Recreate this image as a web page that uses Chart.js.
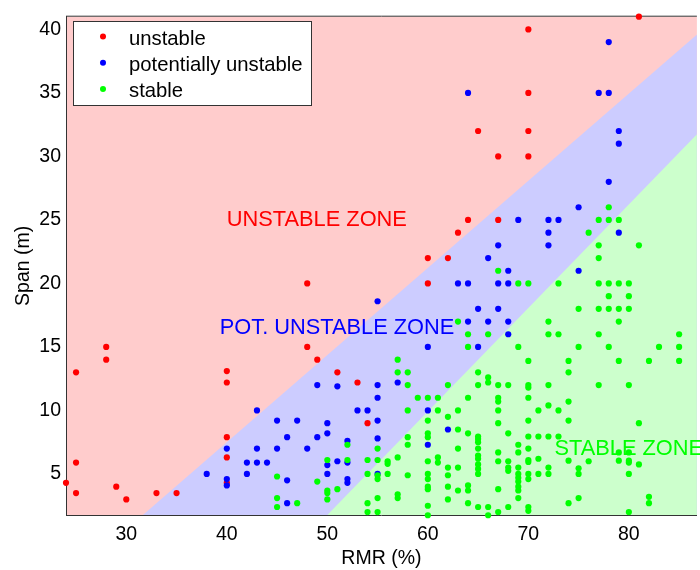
<!DOCTYPE html>
<html><head><meta charset="utf-8">
<script src="https://cdn.jsdelivr.net/npm/chart.js@4"></script>
<style>html,body{margin:0;padding:0;background:#fff;overflow:hidden}#wrap{width:700px;height:570px;position:relative}</style>
</head><body><div id="wrap"><canvas id="c" width="700" height="570"></canvas></div>
<script>
// ---------- data ----------
const xTicks = [30, 40, 50, 60, 70, 80];
const yTicks = [5, 10, 15, 20, 25, 30, 35, 40];
const seriesNames = ['unstable', 'potentially unstable', 'stable'];

const unstable = [
  [24,4.3],[25,13],[25,5.9],[25,3.5],[28,15],[28,14],[29,4],[30,3],[33,3.5],[35,3.5],
  [40,13.1],[40,12.2],[40,7.9],[40,6.3],[40,4.3],[48,20],[48,15],[49,14],[51,13],[53,12.2],
  [54,9],[60,22],[60,20],[62,22],[63,24],[64,25],[65,32],[67,30],[67,25],[70,40],
  [70,35],[70,32],[70,30],[81,41]
];
const potentiallyUnstable = [
  [38,5],[40,7],[40,4.6],[40,4.1],[42,5.9],[42,5],[43,10],[43,7],[43,5.9],[44,5.9],
  [45,9.2],[45,7],[46,7.9],[46,4.5],[46,2.7],[47,9.2],[48,7],[49,12],[49,7.9],[50,9],
  [50,8.2],[50,5.7],[50,5],[51,11.9],[51,6],[52,7.6],[52,5.9],[52,4.6],[52,4.3],[53,10],
  [54,10],[55,18.6],[55,12],[55,11],[55,9.2],[55,7.8],[55,5],[57,12.2],[60,15],[60,10],
  [60,7.3],[62,8.5],[63,20],[64,35],[64,20],[64,17],[65,18],[65,15],[66,22],[66,17],
  [67,23],[67,20],[67,18],[68,21],[68,20],[68,17],[68,16],[69,25],[72,25],[72,24],
  [72,23],[73,25],[75,26],[75,21],[77,35],[78,39],[78,35],[78,28],[79,32],[79,31],[79,24]
];
const stable = [
  [45,4.8],[45,3.1],[45,2.4],[47,2.7],[49,4.4],
  [50,6.1],[50,3.7],[50,3.5],[50,3.0],[51,3.8],
  [52,7.3],[52,6.1],
  [54,6.1],[54,5.0],[54,2.7],[54,2.0],
  [55,7.0],[55,6.1],[55,4.9],[55,4.6],[55,3.1],[55,2.0],
  [56,6.0],[56,5.8],[56,5.0],
  [57,14],[57,13],[57,6.3],[57,3.4],[57,3.1],
  [58,13],[58,12],[58,10],[58,7.9],[58,7.3],[58,4.9],
  [59,11],
  [60,11],[60,9.2],[60,8.2],[60,7.9],[60,6.0],[60,5.0],[60,4.6],[60,4.0],[60,3.8],[60,2.5],[60,1.75],
  [61,11],[61,10],[61,6.3],[61,5.9],
  [62,12],[62,9.5],[62,5.5],[62,4.9],[62,4.0],[62,3.0],
  [63,17],[63,10],[63,8.5],[63,7.0],[63,5.5],[63,3.7],
  [64,16],[64,15],[64,11],[64,8.2],[64,4.1],[64,3.7],[64,2.7],
  [65,13],[65,12],[65,7.95],[65,7.75],[65,7.5],[65,7.0],[65,6.45],[65,6.2],[65,5.75],[65,5.4],[65,5.0],[65,2.4],
  [66,16],[66,12.6],[66,12.2],[66,2.4],[66,1.75],
  [67,21],[67,12],[67,11],[67,10.7],[67,10],[67,9.0],[67,6.7],[67,6.0],[67,3.8],[67,2.0],
  [68,12],[68,8.2],[68,6.0],[68,5.5],[68,5.25],[68,2.4],
  [69,20],[69,15],[69,7.3],[69,6.7],[69,5.5],[69,5.0],[69,4.7],[69,4.4],[69,4.0],[69,3.7],[69,3.1],
  [70,20],[70,13.9],[70,12],[70,11.8],[70,11],[70,9.2],[70,7.95],[70,7.0],[70,6.1],[70,5.95],[70,5.0],[70,4.6],[70,2.4],[70,2.1],
  [71,10],[71,7.95],[71,6.2],[71,5.0],
  [72,17],[72,16],[72,12],[72,10.4],[72,7.95],[72,5.5],[72,5.0],
  [73,20],[73,16],[73,10],[73,7.95],
  [74,13.9],[74,13],[74,10.7],[74,9.2],[74,6.05],[74,2.7],
  [75,18],[75,15],[75,5.45],[75,5.0],[75,3.1],
  [76,24],[76,6.0],
  [77,25],[77,23],[77,22],[77,20],[77,18],[77,16],[77,12],
  [78,26],[78,25],[78,20],[78,19],[78,18],[78,15],
  [79,25],[79,20],[79,18],[79,17],[79,13.9],[79,6.7],[79,6.05],
  [80,20],[80,19],[80,18],[80,12],[80,6.7],[80,6.05],[80,5.9],[80,5.0],[80,2.0],
  [81,23],[81,9.0],[81,5.75],
  [82,13.9],[82,3.2],[82,2.7],
  [83,15],
  [85,16],[85,15],[85,13.9]
];
// zone boundaries (RMR, span)
const upperBoundary = [[31.65,1.77],[92,43.17]];
const lowerBoundary = [[50,1.77],[92,36.0]];
const zoneLabels = ['UNSTABLE ZONE', 'POT. UNSTABLE ZONE', 'STABLE ZONE'];
const zoneLabelAnchors = [[40,25],[39.3,16.5],[72.6,7.0]];

// ---------- styling ----------
const FONT = '"Liberation Sans", Arial, Helvetica, sans-serif';
const pointColors = ['#ff0000', '#0000ff', '#00ff00'];
const zoneColors = ['#ffcccc', '#ccccff', '#ccffcc'];
const labelColors = ['#ff0000', '#0000ff', '#00ff00'];
const toXY = arr => arr.map(p => ({x: p[0], y: p[1]}));

const zonesPlugin = {
  id: 'zones',
  beforeDraw(chart) {
    const {ctx, chartArea: a} = chart;
    ctx.save();
    ctx.fillStyle = zoneColors[0];
    ctx.fillRect(a.left, a.top, a.right - a.left, a.bottom - a.top);
    ctx.restore();
  },
  beforeDatasetsDraw(chart) {
    const {ctx, chartArea: a} = chart;
    ctx.save();
    ctx.strokeStyle = '#333';
    ctx.lineWidth = 1;
    ctx.beginPath();
    ctx.moveTo(a.left, a.top - 0.5);
    ctx.lineTo(a.right, a.top - 0.5);
    ctx.stroke();
    ctx.restore();
  },
  afterDraw(chart) {
    const {ctx, scales: {x, y}} = chart;
    ctx.save();
    // zone labels
    ctx.font = '21.8px ' + FONT;
    ctx.textAlign = 'left';
    ctx.textBaseline = 'middle';
    zoneLabels.forEach((t, i) => {
      ctx.fillStyle = labelColors[i];
      ctx.fillText(t, x.getPixelForValue(zoneLabelAnchors[i][0]), y.getPixelForValue(zoneLabelAnchors[i][1]));
    });
    // legend
    const bx = 73.5, by = 21.5, bw = 238, bh = 84;
    ctx.fillStyle = '#fff';
    ctx.fillRect(bx, by, bw, bh);
    ctx.strokeStyle = '#333';
    ctx.lineWidth = 1;
    ctx.strokeRect(bx, by, bw, bh);
    ctx.beginPath();
    ctx.rect(bx, by, bw - 7, bh);
    ctx.clip();
    ctx.font = '20.3px ' + FONT;
    ctx.textBaseline = 'alphabetic';
    chart.data.datasets.filter(d => d.legendIndex !== undefined)
      .sort((a, b) => a.legendIndex - b.legendIndex)
      .forEach((d, i) => {
        const cy = 36.5 + i * 26.2;
        ctx.fillStyle = d.backgroundColor;
        ctx.beginPath();
        ctx.arc(103, cy, 3, 0, Math.PI * 2);
        ctx.fill();
        ctx.fillStyle = '#000';
        ctx.fillText(d.label, 129, cy + 8);
      });
    ctx.restore();
  }
};

const pointDataset = (name, arr, idx, order) => ({
  label: name,
  legendIndex: idx,
  data: toXY(arr),
  backgroundColor: pointColors[idx],
  borderColor: pointColors[idx],
  borderWidth: 0,
  pointRadius: 3.1,
  pointHoverRadius: 3.1,
  showLine: false,
  clip: false,
  order: order
});
const zoneDataset = (arr, color, order) => ({
  label: '',
  data: toXY(arr),
  showLine: true,
  fill: 'start',
  backgroundColor: color,
  borderColor: 'rgba(0,0,0,0)',
  borderWidth: 0,
  pointRadius: 0,
  pointHoverRadius: 0,
  order: order
});

new Chart(document.getElementById('c'), {
  type: 'scatter',
  data: {
    datasets: [
      pointDataset(seriesNames[0], unstable, 0, 2),
      pointDataset(seriesNames[1], potentiallyUnstable, 1, 1),
      pointDataset(seriesNames[2], stable, 2, 0),
      zoneDataset(lowerBoundary, zoneColors[2], 3),
      zoneDataset(upperBoundary, zoneColors[1], 4)
    ]
  },
  options: {
    responsive: false,
    animation: false,
    events: [],
    layout: {padding: {top: 13, right: 0, left: 0, bottom: 0}},
    plugins: {legend: {display: false}, tooltip: {enabled: false}, filler: {propagate: false}},
    scales: {
      x: {
        type: 'linear', min: 24, max: 86.77,
        afterBuildTicks: s => { s.ticks = xTicks.map(v => ({value: v})); },
        afterFit: s => { s.height = 55; },
        grid: {display: false, drawTicks: false},
        border: {display: true, color: '#333', width: 1},
        ticks: {color: '#000', font: {family: FONT, size: 19.5}, padding: 8, maxRotation: 0},
        title: {display: true, text: 'RMR (%)', color: '#000', font: {family: FONT, size: 19.5}, padding: {top: 0, bottom: 0}}
      },
      y: {
        type: 'linear', min: 1.77, max: 41,
        afterBuildTicks: s => { s.ticks = yTicks.map(v => ({value: v})); },
        afterFit: s => { s.width = 66; },
        grid: {display: false, drawTicks: false},
        border: {display: true, color: '#333', width: 1},
        ticks: {color: '#000', font: {family: FONT, size: 19.5}, padding: 5},
        title: {display: true, text: 'Span (m)', color: '#000', font: {family: FONT, size: 19.5}, padding: {top: 12, bottom: 0}}
      }
    }
  },
  plugins: [zonesPlugin]
});
</script>
</body></html>
